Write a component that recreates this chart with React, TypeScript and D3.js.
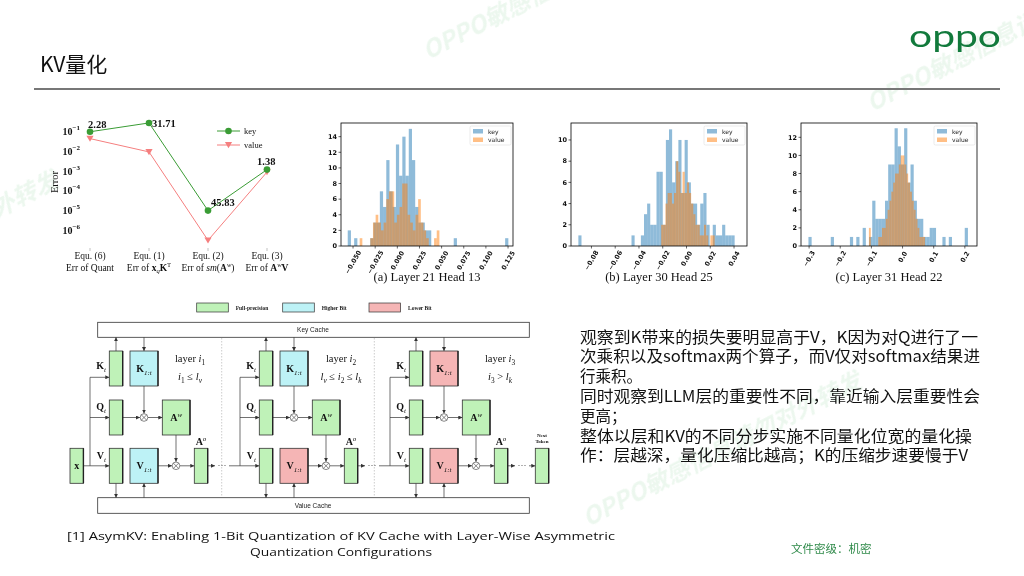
import React from 'react';
import * as d3 from 'd3';

const SERIF = '"Liberation Serif", "DejaVu Serif", serif';
const SANS = '"Liberation Sans", "DejaVu Sans", sans-serif';
const CJK = '"Noto Sans CJK SC", "Noto Sans", sans-serif';
const MPL = '"DejaVu Sans", sans-serif';

// ---------------- Error chart (log scale) ----------------
const errCategories = ['Equ. (6)', 'Equ. (1)', 'Equ. (2)', 'Equ. (3)'];
type Seg = [string, string];
const errSubLabels: Seg[][] = [
  [['Err of Quant', '']],
  [['Err of ', ''], ['x', 'b'], ['q', 'sub'], ['K', 'b'], ['T', 'sup']],
  [['Err of ', ''], ['sm', 'i'], ['(', ''], ['A', 'b'], ['w', 'sup'], [')', '']],
  [['Err of ', ''], ['A', 'b'], ['w', 'sup'], ['V', 'b']],
];
const keyError = [0.1, 0.28, 1.0e-5, 1.2e-3];
const valueError = [0.045, 0.0095, 3.1e-7, 9.0e-4];
const keyRatioLabels = ['2.28', '31.71', '45.83', '1.38'];
const errExponents = [-1, -2, -3, -4, -5, -6];
const errLegend = ['key', 'value'];

// ---------------- Histograms ----------------
const histAKeyStart = -0.056;
const histAKeyWidth = 0.003627;
const histAKeyCounts = [2,0,1,0,0,0,0,1,3,3, 7,5,11,7,5,13,9,14,9,15, 11,5,3,3,2,2,0,0,0,0, 0,0,0,1,0,0,0,0,0,0, 0,0,0,0,0,0,0,0,0,1];
const histAValStart = -0.0425;
const histAValWidth = 0.003;
const histAValCounts = [1,0,0,0,1,3,4,3,2,3, 6,7,7,3,4,5,8,8,4,3, 2,4,6,3,2,1,0,0,1,2];
const histAXTicks = [-0.05, -0.025, 0, 0.025, 0.05, 0.075, 0.1, 0.125];
const histAYTicks = [0, 2, 4, 6, 8, 10, 12, 14];

const histBKeyStart = -0.0910;
const histBKeyWidth = 0.00263;
const histBKeyCounts = [1,0,0,0,0,0,0,0,0,0, 0,0,0,0,0,0,0,1,0,0, 1,3,4,2,2,7,7,2,10,11, 6,8,10,5,10,6,4,4,2,4, 5,2,0,2,1,1,2,1,1,1];
const histBValStart = -0.0213;
const histBValWidth = 0.0018;
const histBValCounts = [2,2,4,5,5,4,5,8,7,5, 7,5,6,5,4,3,2,2,1,1, 2,1,0,1,1];
const histBXTicks = [-0.08, -0.06, -0.04, -0.02, 0, 0.02, 0.04];
const histBYTicks = [0, 2, 4, 6, 8, 10];

const histCKeyStart = -0.3021;
const histCKeyWidth = 0.01024;
const histCKeyCounts = [1,0,0,0,0,0,0,1,0,0, 0,0,0,1,0,1,0,2,0,1, 5,3,3,3,5,9,9,13,11,9, 13,7,9,5,3,3,1,1,2,2, 0,0,1,0,1,0,0,0,0,2];
const histCValStart = -0.108;
const histCValWidth = 0.006;
const histCValCounts = [2,0,0,0,0,1,1,2,2,3, 4,5,6,7,8,8,9,10,10,9, 8,7,6,5,4,3,2,1,1,1];
const histCXTicks = [-0.3, -0.2, -0.1, 0, 0.1, 0.2];
const histCYTicks = [0, 2, 4, 6, 8, 10, 12];

const histTitles = ['(a) Layer 21 Head 13', '(b) Layer 30 Head 25', '(c) Layer 31 Head 22'];
const histLegend = ['key', 'value'];

// ---------------- Diagram text ----------------
const legendItems = ['Full-precision', 'Higher Bit', 'Lower Bit'];
const layerLabels: Seg[][] = [
  [['layer ', ''], ['i', 'i'], ['1', 'sub']],
  [['layer ', ''], ['i', 'i'], ['2', 'sub']],
  [['layer ', ''], ['i', 'i'], ['3', 'sub']],
];
const condLabels: Seg[][] = [
  [['i', 'i'], ['1', 'sub'], [' ≤ ', ''], ['l', 'i'], ['v', 'sub']],
  [['l', 'i'], ['v', 'sub'], [' ≤ ', ''], ['i', 'i'], ['2', 'sub'], [' ≤ ', ''], ['l', 'i'], ['k', 'sub']],
  [['i', 'i'], ['3', 'sub'], [' > ', ''], ['l', 'i'], ['k', 'sub']],
];
const kCacheBits = ['higher', 'higher', 'lower'];
const vCacheBits = ['higher', 'lower', 'lower'];

const paragraphLines = [
  '观察到K带来的损失要明显高于V，K因为对Q进行了一',
  '次乘积以及softmax两个算子，而V仅对softmax结果进',
  '行乘积。',
  '同时观察到LLM层的重要性不同，靠近输入层重要性会',
  '更高；',
  '整体以层和KV的不同分步实施不同量化位宽的量化操',
  '作：层越深，量化压缩比越高；K的压缩步速要慢于V',
];
const paragraphFull = [398, 400, 0, 400, 0, 392, 388];

const GREEN = '#bff2b8';
const CYAN = '#bdf2f6';
const PINK = '#f5b5b5';

function Rich({ segs, size }: { segs: Seg[]; size: number }) {
  let cur = 0;
  return (
    <>
      {segs.map(([t, s], i) => {
        const target = s === 'sub' ? size * 0.3 : s === 'sup' ? -size * 0.4 : 0;
        const dy = target - cur;
        cur = target;
        const small = s === 'sub' || s === 'sup';
        return (
          <tspan
            key={i}
            dy={dy}
            fontSize={small ? size * 0.7 : size}
            fontWeight={s === 'b' ? 'bold' : 'normal'}
            fontStyle={s === 'i' || (small && /[a-z]/.test(t)) ? 'italic' : 'normal'}
          >
            {t}
          </tspan>
        );
      })}
    </>
  );
}

function ErrorChart() {
  const xs = d3.scalePoint<string>().domain(errCategories).range([90, 267]);
  const ys = d3.scaleLog().domain([1e-7, Math.pow(10, -0.19)]).range([250, 115.8]);
  const line = d3
    .line<number>()
    .x((_, i) => xs(errCategories[i]) as number)
    .y((d) => ys(d));
  const keyColor = '#3a9c35';
  const valColor = '#f57f7f';
  const labelOffsets = [[-2, -4], [3, 4], [3, -5], [-10, -5]];
  const tri = (x: number, y: number, r: number) =>
    `M${x - r},${y - r * 0.8}L${x + r},${y - r * 0.8}L${x},${y + r * 0.9}Z`;
  return (
    <g>
      {errExponents.map((e) => (
        <text key={e} x={80} y={ys(Math.pow(10, e)) + 3.5} textAnchor="end" fontFamily={SERIF} fontSize={10} fontWeight="bold" fill="#111">
          10<tspan dy={-5} fontSize={7}>{'−' + Math.abs(e)}</tspan>
        </text>
      ))}
      <text transform="translate(58,182) rotate(-90)" textAnchor="middle" fontFamily={SERIF} fontSize={10.5} fill="#111">Error</text>
      {errCategories.map((c, i) => (
        <g key={c}>
          <line x1={xs(c)} x2={xs(c)} y1={248} y2={251} stroke="#999" strokeWidth={0.6} />
          <text x={xs(c)} y={259} textAnchor="middle" fontFamily={SERIF} fontSize={9.5} fill="#111">{c}</text>
          <text x={xs(c)} y={270.5} textAnchor="middle" fontFamily={SERIF} fontSize={9.5} fill="#111">
            <Rich segs={errSubLabels[i]} size={9.5} />
          </text>
        </g>
      ))}
      <path d={line(valueError) || ''} fill="none" stroke={valColor} strokeWidth={1} />
      <path d={line(keyError) || ''} fill="none" stroke={keyColor} strokeWidth={1} />
      {valueError.map((v, i) => (
        <path key={i} d={tri(xs(errCategories[i]) as number, ys(v), 3.6)} fill={valColor} />
      ))}
      {keyError.map((v, i) => (
        <circle key={i} cx={xs(errCategories[i])} cy={ys(v)} r={3.3} fill={keyColor} />
      ))}
      {keyRatioLabels.map((t, i) => (
        <text key={t} x={(xs(errCategories[i]) as number) + labelOffsets[i][0]} y={ys(keyError[i]) + labelOffsets[i][1]} fontFamily={SERIF} fontSize={10.5} fontWeight="bold" fill="#111">{t}</text>
      ))}
      <line x1={217} x2={240} y1={131} y2={131} stroke={keyColor} strokeWidth={1} />
      <circle cx={228.5} cy={131} r={3.3} fill={keyColor} />
      <text x={244} y={134} fontFamily={SERIF} fontSize={8.5} fill="#111">{errLegend[0]}</text>
      <line x1={217} x2={240} y1={145} y2={145} stroke={valColor} strokeWidth={1} />
      <path d={tri(228.5, 145, 3.6)} fill={valColor} />
      <text x={244} y={148} fontFamily={SERIF} fontSize={8.5} fill="#111">{errLegend[1]}</text>
    </g>
  );
}

type HistProps = {
  left: number; right: number; top: number; bottom: number;
  xDomain: [number, number]; yMax: number;
  xTicks: number[]; yTicks: number[]; fmt: string;
  keyStart: number; keyWidth: number; keyCounts: number[];
  valStart: number; valWidth: number; valCounts: number[];
  title: string;
};

function Histogram(p: HistProps) {
  const xs = d3.scaleLinear().domain(p.xDomain).range([p.left, p.right]);
  const ys = d3.scaleLinear().domain([0, p.yMax]).range([p.bottom, p.top]);
  const fmt = d3.format(p.fmt);
  const bars = (start: number, width: number, counts: number[], color: string, k: string) =>
    counts.map((c, i) =>
      c > 0 ? (
        <rect
          key={k + i}
          x={xs(start + i * width)}
          y={ys(c)}
          width={xs(start + (i + 1) * width) - xs(start + i * width)}
          height={ys(0) - ys(c)}
          fill={color}
          fillOpacity={0.5}
        />
      ) : null
    );
  const fs = 6.5;
  const lx = p.right - 43;
  const ly = p.top + 3;
  return (
    <g>
      {bars(p.keyStart, p.keyWidth, p.keyCounts, '#1f77b4', 'k')}
      {bars(p.valStart, p.valWidth, p.valCounts, '#ff7f0e', 'v')}
      <rect x={p.left} y={p.top} width={p.right - p.left} height={p.bottom - p.top} fill="none" stroke="#000" strokeWidth={0.8} />
      {p.yTicks.map((t) => (
        <g key={t}>
          <line x1={p.left - 2.5} x2={p.left} y1={ys(t)} y2={ys(t)} stroke="#000" strokeWidth={0.6} />
          <text x={p.left - 4} y={ys(t)} dy="0.35em" textAnchor="end" fontSize={fs} fontFamily={MPL} fontWeight="bold" fill="#111">{t}</text>
        </g>
      ))}
      {p.xTicks.map((t) => {
        const s = fmt(t);
        const half = (s.length * 0.62 * fs * 0.866 + fs * 0.5) / 2;
        return (
          <g key={t}>
            <line x1={xs(t)} x2={xs(t)} y1={p.bottom} y2={p.bottom + 2.5} stroke="#000" strokeWidth={0.6} />
            <text transform={`translate(${xs(t)},${p.bottom + 4 + half}) rotate(-60)`} textAnchor="middle" dy="0.35em" fontSize={fs} fontFamily={MPL} fontWeight="bold" fill="#111">{s}</text>
          </g>
        );
      })}
      <rect x={lx} y={ly} width={41} height={19} rx={1.5} fill="#fff" fillOpacity={0.8} stroke="#ddd" strokeWidth={0.6} />
      <rect x={lx + 3} y={ly + 3} width={10} height={4.5} fill="#1f77b4" fillOpacity={0.5} />
      <rect x={lx + 3} y={ly + 11.5} width={10} height={4.5} fill="#ff7f0e" fillOpacity={0.5} />
      <text x={lx + 18} y={ly + 7.5} fontSize={6} fontFamily={MPL} fill="#222">{histLegend[0]}</text>
      <text x={lx + 18} y={ly + 16} fontSize={6} fontFamily={MPL} fill="#222">{histLegend[1]}</text>
      <text x={(p.left + p.right) / 2} y={281} textAnchor="middle" fontSize={12.5} fontFamily={SERIF} fill="#111">{p.title}</text>
    </g>
  );
}

function Otimes({ x, y }: { x: number; y: number }) {
  const r = 3.8;
  const d = r * 0.707;
  return (
    <g stroke="#555" strokeWidth={0.7} fill="#fff">
      <circle cx={x} cy={y} r={r} />
      <line x1={x - d} y1={y - d} x2={x + d} y2={y + d} />
      <line x1={x - d} y1={y + d} x2={x + d} y2={y - d} />
    </g>
  );
}

function Box({ x, y, w, h, fill, children }: any) {
  return (
    <g>
      <rect x={x} y={y} width={w} height={h} fill={fill} stroke="#333" strokeWidth={0.8} />
      <line x1={x + w} x2={x + w} y1={y} y2={y + h} stroke="#222" strokeWidth={1.4} />
      {children}
    </g>
  );
}

const A = { markerEnd: 'url(#arr)', stroke: '#333', strokeWidth: 0.7 };
const L = { stroke: '#333', strokeWidth: 0.7 };

function Block({ idx }: { idx: number }) {
  const dx = idx * 150;
  const kx = dx + 109.3, kw = 13.4;
  const cx = dx + 130, cw = 28;
  const awx = dx + 162.3, aww = 27.7;
  const aox = dx + 194.3;
  const yK = 351, yQ = 400, yV = 448.3, bh = 35;
  const midK = 377.3, midQ = yQ + bh / 2, midV = yV + bh / 2;
  const vx = dx + 90;
  const o1x = dx + 144, o2x = dx + 176;
  const kFill = kCacheBits[idx] === 'higher' ? CYAN : PINK;
  const vFill = vCacheBits[idx] === 'higher' ? CYAN : PINK;
  const last = idx === 2;
  const labelX = [190, 341, 500][idx];
  return (
    <g fontFamily={SERIF} fill="#111">
      <line x1={vx} x2={vx} y1={midK} y2={midV} {...L} />
      <line x1={vx} x2={kx} y1={midK} y2={midK} {...A} />
      <line x1={vx} x2={kx} y1={midQ} y2={midQ} {...A} />
      <line x1={vx} x2={kx} y1={midV} y2={midV} {...A} />
      <line x1={kx + kw / 2} x2={kx + kw / 2} y1={yK} y2={337.3} {...A} />
      <line x1={o1x} x2={o1x} y1={337.3} y2={yK} {...A} />
      <line x1={o1x} x2={o1x} y1={yK + bh} y2={midQ - 4} {...A} />
      <line x1={kx + kw} x2={o1x - 4} y1={midQ} y2={midQ} {...A} />
      <line x1={o1x + 4} x2={awx} y1={midQ} y2={midQ} {...A} />
      <line x1={o2x} x2={o2x} y1={yQ + bh} y2={midV - 4} {...A} />
      <line x1={cx + cw} x2={o2x - 4} y1={midV} y2={midV} {...A} />
      <line x1={o2x + 4} x2={aox} y1={midV} y2={midV} {...A} />
      <line x1={kx + kw / 2} x2={kx + kw / 2} y1={yV + bh} y2={497.7} {...A} />
      <line x1={o1x} x2={o1x} y1={497.7} y2={yV + bh} {...A} />
      <line x1={aox + 13.4} x2={dx + 215} y1={midV} y2={midV} {...A} />
      <text x={dx + 222} y={midV + 2} textAnchor="middle" fontSize={9}>···</text>
      {last ? (
        <line x1={dx + 229} x2={dx + 235.3} y1={midV} y2={midV} {...A} />
      ) : (
        <line x1={dx + 229} x2={dx + 240} y1={midV} y2={midV} {...L} />
      )}
      <Box x={kx} y={yK} w={kw} h={bh} fill={GREEN} />
      <Box x={cx} y={yK} w={cw} h={bh} fill={kFill}>
        <text x={cx + cw / 2} y={yK + bh / 2 + 3} textAnchor="middle"><Rich segs={[['K', 'b'], ['1:t', 'sub']]} size={10} /></text>
      </Box>
      <Box x={kx} y={yQ} w={kw} h={bh} fill={GREEN} />
      <Box x={awx} y={yQ} w={aww} h={bh} fill={GREEN}>
        <text x={awx + aww / 2} y={yQ + bh / 2 + 3} textAnchor="middle"><Rich segs={[['A', 'b'], ['w', 'sup']]} size={10} /></text>
      </Box>
      <Box x={kx} y={yV} w={kw} h={bh} fill={GREEN} />
      <Box x={cx} y={yV} w={cw} h={bh} fill={vFill}>
        <text x={cx + cw / 2} y={yV + bh / 2 + 3} textAnchor="middle"><Rich segs={[['V', 'b'], ['1:t', 'sub']]} size={10} /></text>
      </Box>
      <Box x={aox} y={yV} w={13.4} h={bh} fill={GREEN} />
      <Otimes x={o1x} y={midQ} />
      <Otimes x={o2x} y={midV} />
      <text x={dx + 106} y={369} textAnchor="end"><Rich segs={[['K', 'b'], ['t', 'sub']]} size={10} /></text>
      <text x={dx + 106} y={410} textAnchor="end"><Rich segs={[['Q', 'b'], ['t', 'sub']]} size={10} /></text>
      <text x={dx + 106} y={459} textAnchor="end"><Rich segs={[['V', 'b'], ['t', 'sub']]} size={10} /></text>
      <text x={aox + 6.7} y={445} textAnchor="middle"><Rich segs={[['A', 'b'], ['o', 'sup']]} size={10} /></text>
      <text x={labelX} y={361.5} textAnchor="middle" fontSize={10.5}><Rich segs={layerLabels[idx]} size={10.5} /></text>
      <text x={labelX} y={379.5} textAnchor="middle" fontSize={10.5}><Rich segs={condLabels[idx]} size={10.5} /></text>
    </g>
  );
}

function Diagram() {
  const legendFills = [GREEN, CYAN, PINK];
  const legendX = [196.7, 282.7, 369];
  return (
    <g>
      <defs>
        <marker id="arr" viewBox="0 0 6 6" refX={6} refY={3} markerWidth={4} markerHeight={4} markerUnits="userSpaceOnUse" orient="auto">
          <path d="M0,0L6,3L0,6Z" fill="#333" />
        </marker>
      </defs>
      {legendItems.map((t, i) => (
        <g key={t}>
          <rect x={legendX[i]} y={303} width={31.6} height={9} fill={legendFills[i]} stroke="#333" strokeWidth={0.7} />
          <text x={legendX[i] + 39} y={309.5} fontSize={5.5} fontWeight="bold" fontFamily={SERIF} fill="#222">{t}</text>
        </g>
      ))}
      <rect x={97.7} y={322.3} width={431.6} height={15} fill="#fff" stroke="#333" strokeWidth={0.8} />
      <text x={313} y={332} textAnchor="middle" fontSize={6.5} fontFamily={SANS} fill="#222">Key Cache</text>
      <rect x={97.7} y={497.7} width={431.6} height={15.6} fill="#fff" stroke="#333" strokeWidth={0.8} />
      <text x={313} y={507.5} textAnchor="middle" fontSize={6.5} fontFamily={SANS} fill="#222">Value Cache</text>
      <line x1={221.7} x2={221.7} y1={338} y2={497} stroke="#aaa" strokeWidth={0.6} strokeDasharray="1.5,1.5" />
      <line x1={374.3} x2={374.3} y1={338} y2={497} stroke="#aaa" strokeWidth={0.6} strokeDasharray="1.5,1.5" />
      <line x1={83.3} x2={90} y1={465.8} y2={465.8} {...L} />
      <Box x={70} y={448.3} w={13.4} h={35} fill={GREEN}>
        <text x={76.7} y={469} textAnchor="middle" fontFamily={SERIF} fontWeight="bold" fontSize={10} fill="#111">x</text>
      </Box>
      {[0, 1, 2].map((i) => <Block key={i} idx={i} />)}
      <Box x={535.3} y={448.3} w={13.4} h={35} fill={GREEN} />
      <text x={542} y={437} textAnchor="middle" fontSize={5} fontWeight="bold" fontFamily={SERIF} fill="#111">Next</text>
      <text x={542} y={442.5} textAnchor="middle" fontSize={5} fontWeight="bold" fontFamily={SERIF} fill="#111">Token</text>
    </g>
  );
}

function Watermarks() {
  const wm = 'OPPO敏感信息请勿对外转发';
  const spots: [number, number][] = [[428, 60], [872, 112], [588, 527], [-215, 326]];
  return (
    <g fill="#e6f5e9" fontFamily={CJK} fontSize={24} fontStyle="italic" fontWeight="bold" opacity={0.75}>
      {spots.map(([x, y], i) => (
        <text key={i} transform={`translate(${x},${y}) rotate(-27)`}>{wm}</text>
      ))}
    </g>
  );
}

export default function App() {
  return (
    <svg width={1024} height={576} viewBox="0 0 1024 576" style={{ position: 'absolute', left: 0, top: 0, display: 'block' }}>
      <rect width={1024} height={576} fill="#fff" />
      <Watermarks />
      <text x={40} y={72} fontFamily={CJK} fontSize={21} fill="#111">KV量化</text>
      <text x={909} y={47} fontFamily='"Lato", "Open Sans", sans-serif' fontSize={30} fill="#127a3c" textLength={92} lengthAdjust="spacingAndGlyphs">oppo</text>
      <line x1={34} x2={1000} y1={89} y2={89} stroke="#777" strokeWidth={2} />
      <ErrorChart />
      <Histogram left={341} right={513} top={123} bottom={246} xDomain={[-0.0636, 0.1306]} yMax={15.75}
        xTicks={histAXTicks} yTicks={histAYTicks} fmt=".3f"
        keyStart={histAKeyStart} keyWidth={histAKeyWidth} keyCounts={histAKeyCounts}
        valStart={histAValStart} valWidth={histAValWidth} valCounts={histAValCounts} title={histTitles[0]} />
      <Histogram left={571} right={747} top={123} bottom={246} xDomain={[-0.0972, 0.0509]} yMax={11.6}
        xTicks={histBXTicks} yTicks={histBYTicks} fmt=".2f"
        keyStart={histBKeyStart} keyWidth={histBKeyWidth} keyCounts={histBKeyCounts}
        valStart={histBValStart} valWidth={histBValWidth} valCounts={histBValCounts} title={histTitles[1]} />
      <Histogram left={801} right={977} top={123} bottom={246} xDomain={[-0.326, 0.239]} yMax={13.58}
        xTicks={histCXTicks} yTicks={histCYTicks} fmt=".1f"
        keyStart={histCKeyStart} keyWidth={histCKeyWidth} keyCounts={histCKeyCounts}
        valStart={histCValStart} valWidth={histCValWidth} valCounts={histCValCounts} title={histTitles[2]} />
      <Diagram />
      {paragraphLines.map((t, i) => (
        <text key={i} x={580} y={342.5 + i * 19.8} fontFamily={CJK} fontSize={15.5} fill="#111"
          {...(paragraphFull[i] ? { textLength: paragraphFull[i], lengthAdjust: 'spacingAndGlyphs' } : {})}>{t}</text>
      ))}
      <text x={67} y={540} fontFamily={'"Open Sans", sans-serif'} fontSize={11.5} fill="#111" textLength={548} lengthAdjust="spacingAndGlyphs">[1] AsymKV: Enabling 1-Bit Quantization of KV Cache with Layer-Wise Asymmetric</text>
      <text x={341} y={556} textAnchor="middle" fontFamily={'"Open Sans", sans-serif'} fontSize={11.5} fill="#111" textLength={182} lengthAdjust="spacingAndGlyphs">Quantization Configurations</text>
      <text x={791} y={553} fontFamily={CJK} fontSize={11.5} fill="#2f8a4a">文件密级：机密</text>
    </svg>
  );
}
